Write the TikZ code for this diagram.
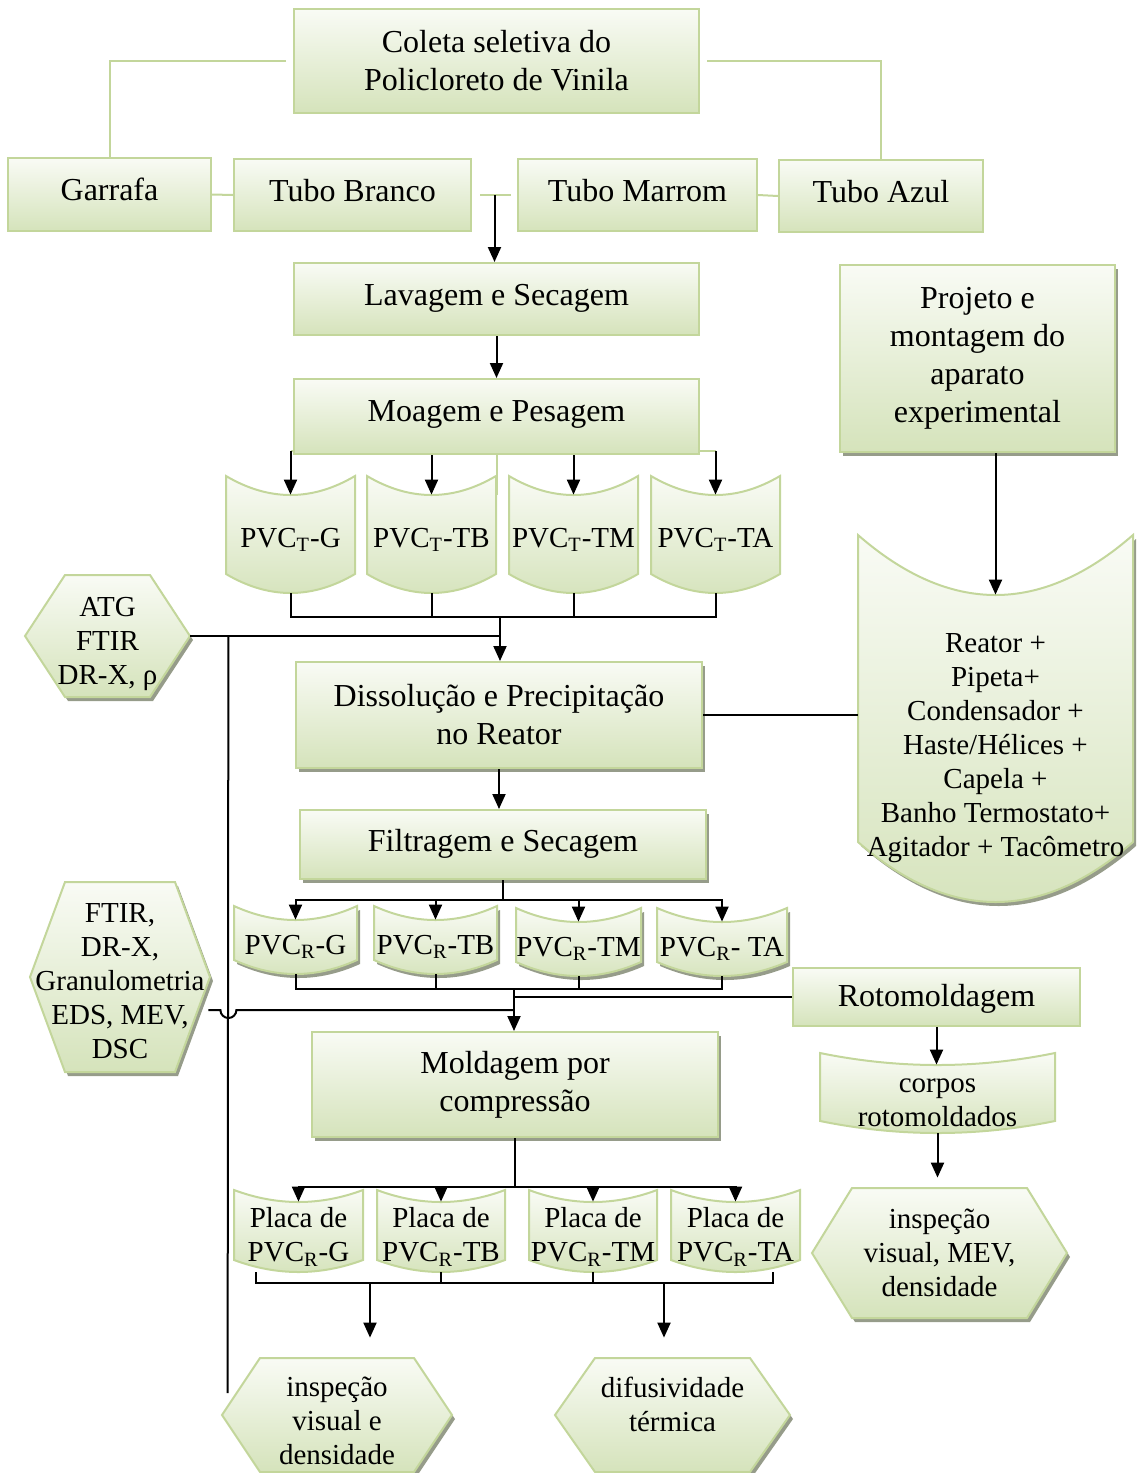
\documentclass[tikz,border=0pt]{standalone}
\usepackage{fontspec}
\setmainfont{Liberation Serif}
\usetikzlibrary{positioning}
\usetikzlibrary{calc}
\usetikzlibrary{shadows}
\usetikzlibrary{arrows.meta}
\definecolor{gline}{RGB}{195,214,155}
\definecolor{gtop}{RGB}{249,251,245}
\definecolor{gbot}{RGB}{213,227,187}
\definecolor{shadowcol}{RGB}{150,156,138}
\newcommand{\nodefont}{\fontsize{16}{17}\selectfont}
\newcommand{\bigfont}{\fontsize{16}{19}\selectfont}
\newcommand{\shapefont}{\fontsize{14.5}{17}\selectfont}
\tikzset{box/.style={shape=rectangle,
    draw=gline, line width=1pt, align=center, font=\nodefont,
    inner sep=0pt, top color=gtop, bottom color=gbot},
  wh/.style 2 args={minimum width=(#1)*0.5pt, minimum height=(#2)*0.5pt},
  lift/.style={text height=11pt, text depth=#1},
  txt/.style={align=center, font=\shapefont, inner sep=0pt},
  bentfill/.style={draw=gline, line width=1pt, top color=gtop, bottom color=gbot},
  withshadow/.style={drop shadow={shadow xshift=1.5pt, shadow yshift=-2pt,
    fill=shadowcol, opacity=1}},
  gl/.style={draw=gline, line width=1pt},
  bl/.style={draw=black, line width=1pt},
  flow/.style={bl, -{Triangle[width=6.5pt,length=7.5pt]}}}
% curved sheet: style, name, x left, x right, y top, y bottom, dip, text options, text
\newcommand{\bentnode}[9]{%
  \path[bentfill,#1] (#3,#5) .. controls ({#3+(#4-#3)/3},{#5+4*#7/3}) and ({#4-(#4-#3)/3},{#5+4*#7/3}) .. (#4,#5)
    -- (#4,#6) .. controls ({#4-(#4-#3)/3},{#6+4*#7/3}) and ({#3+(#4-#3)/3},{#6+4*#7/3}) .. (#3,#6) -- cycle;
  \node[txt, wh={#4-#3}{#6-#5}] (#2) at ({(#3+#4)/2},{(#5+#6)/2+#7}) {};
  \node[txt,#8] (#2-t) at (#2.center) {#9};}
% hexagon: style, name, x left, x right, y top, y bottom, inset, text options, text
\newcommand{\hexnode}[9]{%
  \path[bentfill,#1] (#3,{(#5+#6)/2}) -- ({#3+#7},#5) -- ({#4-#7},#5)
    -- (#4,{(#5+#6)/2}) -- ({#4-#7},#6) -- ({#3+#7},#6) -- cycle;
  \node[txt, wh={#4-#3}{#6-#5}] (#2) at ({(#3+#4)/2},{(#5+#6)/2}) {};
  \node[txt,#8] (#2-t) at (#2.center) {#9};}

\begin{document}
\begin{tikzpicture}[x=0.5pt,y=-0.5pt]
    \useasboundingbox (0,0) rectangle (1136,1473);

    \node[box, wh={405}{104}, font=\bigfont] (col) at (496.5,61) {Coleta seletiva do\\Policloreto de Vinila};
    \node[box, lift=5.5pt, wh={203}{73}] (gar) at (109.5,194.5) {Garrafa};
    \node[box, lift=5pt, wh={237}{72}] (tbr) at (352.5,195) {Tubo Branco};
    \node[box, lift=5pt, wh={239}{72}] (tma) at (637.5,195) {Tubo Marrom};
    \node[box, lift=5pt, wh={204}{72}] (taz) at (881,196) {Tubo Azul};

    \node[box, lift=5pt, wh={405}{72}] (lav) at (496.5,299) {Lavagem e Secagem};
    \node[box, lift=6pt, wh={405}{75}] (moa) [below=21pt of lav] {Moagem e Pesagem};
    \node[box, withshadow, wh={275}{187}, font=\bigfont] (proj) at (977.5,358.5) {Projeto e\\montagem do\\aparato\\experimental};

    \bentnode{}{pvct1}{226}{355}{476}{574}{19}{yshift=2pt}{PVC\textsubscript{T}-G}
    \bentnode{}{pvct2}{367}{496}{476}{574}{19}{yshift=2pt}{PVC\textsubscript{T}-TB}
    \bentnode{}{pvct3}{509}{638}{476}{574}{19}{yshift=2pt}{PVC\textsubscript{T}-TM}
    \bentnode{}{pvct4}{651}{780}{476}{574}{19}{yshift=2pt}{PVC\textsubscript{T}-TA}

    \hexnode{withshadow}{atg}{25}{190}{575}{697}{40}{yshift=-4pt}{ATG\\FTIR\\DR-X, ρ}
    \node[box, withshadow, wh={406}{106}, font=\bigfont] (dis) at (499,715) {Dissolução e Precipitação\\no Reator};
    \bentnode{withshadow}{reat}{858}{1133}{535}{842}{60}{}{Reator +\\Pipeta+\\Condensador +\\Haste/Hélices +\\Capela +\\Banho Termostato+\\Agitador + Tacômetro}
    \node[box, lift=4.5pt, withshadow, wh={406}{69}] (filt) [below=20pt of dis, xshift=2pt] {Filtragem e Secagem};

    \bentnode{withshadow}{pvcr1}{234}{357}{906}{960}{14}{}{PVC\textsubscript{R}-G}
    \bentnode{withshadow}{pvcr2}{374}{497}{906}{960}{14}{}{PVC\textsubscript{R}-TB}
    \bentnode{withshadow}{pvcr3}{516}{641}{908}{962}{14}{}{PVC\textsubscript{R}-TM}
    \bentnode{withshadow}{pvcr4}{657}{787}{908}{962}{14}{}{PVC\textsubscript{R}- TA}

    \hexnode{withshadow}{ftir}{30}{210}{882}{1072}{35}{yshift=-2pt}{FTIR,\\DR-X,\\Granulometria\\EDS, MEV,\\DSC}
    \node[box, lift=2pt, wh={287}{58}] (roto) at (936.5,997) {Rotomoldagem};
    \node[box, withshadow, wh={406}{105}, font=\bigfont] (mold) at (515,1084.5) {Moldagem por\\compressão};
    \bentnode{}{cor}{820}{1055}{1053}{1121}{12}{yshift=-2pt}{corpos\\rotomoldados}
    \hexnode{withshadow}{insp3}{812}{1067}{1188}{1318}{40}{}{inspeção\\visual, MEV,\\densidade}

    \bentnode{}{pl1}{234}{363}{1190}{1260}{12}{}{Placa de\\PVC\textsubscript{R}-G}
    \bentnode{}{pl2}{377}{505}{1190}{1260}{12}{}{Placa de\\PVC\textsubscript{R}-TB}
    \bentnode{}{pl3}{529}{657}{1190}{1260}{12}{}{Placa de\\PVC\textsubscript{R}-TM}
    \bentnode{}{pl4}{671}{800}{1190}{1260}{12}{}{Placa de\\PVC\textsubscript{R}-TA}

    \hexnode{withshadow}{insp}{222}{452}{1358}{1472}{38}{yshift=-3pt}{inspeção\\visual e\\densidade}
    \hexnode{withshadow}{dif}{555}{790}{1358}{1472}{40}{yshift=5.5pt}{difusividade\\térmica}

    % coleta e tubos
    \draw[gl, shorten <=3.5pt] (col.west) -| (gar.north);
    \draw[gl, shorten <=3.5pt] (col.east) -| (taz.north);
    \draw[gl] (gar.east) -- (tbr.west);
    \draw[gl, shorten <=4pt, shorten >=3pt] (tbr.east) -- (tma.west);
    \draw[gl] (tma.east) -- (taz.west);
    \coordinate (tubmeio) at ($(tbr.east)!0.5!(tma.west)$);
    \draw[flow] (tubmeio) -- (tubmeio |- lav.north);
    \draw[flow] (lav) -- (moa);

    % moagem
    \coordinate (mstubL) at ($(moa.south west)+(0,-4)$);
    \coordinate (mstubR) at ($(moa.south east)+(0,-4)$);
    \draw[gl] (mstubL) -- (mstubL -| pvct1.north);
    \draw[gl] (mstubR) -- (mstubR -| pvct4.north);
    \draw[gl] (moa.south) -- ++(0,40);
    \draw[flow] (mstubL -| pvct1.north) -- (pvct1.north);
    \draw[flow] (moa.south -| pvct2.north) -- (pvct2.north);
    \draw[flow] (moa.south -| pvct3.north) -- (pvct3.north);
    \draw[flow] (mstubR -| pvct4.north) -- (pvct4.north);

    \coordinate (jt) at (500,617);
    \draw[bl] (pvct1.south) |- (jt) -| (pvct4.south);
    \draw[bl] (pvct2.south) -- (pvct2.south |- jt);
    \draw[bl] (pvct3.south) -- (pvct3.south |- jt);
    \draw[flow] (jt) -- (jt |- dis.north);
    \draw[bl] (atg.east) -- (jt |- atg.east);
    \coordinate (tapA) at ($(atg.east)+(38,0)$);
    \coordinate (inspin) at ($(insp.west)+(6,-22)$);
    \draw[bl] (tapA) -- (inspin);

    % reator
    \draw[bl] (dis.east) -- (dis.east -| reat.west);
    \draw[flow] (proj.south -| reat.north) -- (reat.north);
    \draw[flow] (dis.south) -- (dis.south |- filt.north);

    % filtragem
    \coordinate (jf) at ($(filt.south)+(0,20)$);
    \draw[bl] (filt.south) -- (jf);
    \foreach \n in {1,...,4}
        \draw[flow] (jf) -| (pvcr\n.north);

    \coordinate (jr) at (514,989);
    \draw[bl] (pvcr1.south) |- (jr) -| (pvcr4.south);
    \draw[bl] (pvcr2.south) -- (pvcr2.south |- jr);
    \draw[bl] (pvcr3.south) -- (pvcr3.south |- jr);
    \draw[flow] (jr) -- (jr |- mold.north);
    \draw[bl] (roto.west) -- (roto.west -| jr);
    \coordinate (ftirout) at ($(ftir.east)+(-2,33)$);
    \draw[bl] (ftirout) -- ($(tapA |- ftirout)+(-8,0)$)
        arc[start angle=180, end angle=360, radius=4pt] -- (ftirout -| jr);

    % rotomoldagem
    \draw[flow] (roto.south) -- (roto.south |- cor.north);
    \draw[flow, shorten >=5pt] (cor.south) -- (cor.south |- insp3.north);

    % moldagem
    \coordinate (jm) at ($(mold.south)+(0,49)$);
    \draw[bl] (mold.south) -- (jm);
    \foreach \n in {1,...,4}
        \draw[flow] (jm) -| (pl\n.north);

    \coordinate (jp1) at (370,1283);
    \coordinate (jp2) at (664,1283);
    \coordinate (plL) at ($(pl1.south)+(-43,0)$);
    \coordinate (plR) at ($(pl4.south)+(37,0)$);
    \draw[bl] (plL) |- (jp1) -- (jp2) -| (plR);
    \draw[bl] (pl2.south) -- (pl2.south |- jp1);
    \draw[bl] (pl3.south) -- (pl3.south |- jp1);
    \draw[flow, shorten >=10pt] (jp1) -- (jp1 |- insp.north);
    \draw[flow, shorten >=10pt] (jp2) -- (jp2 |- dif.north);
\end{tikzpicture}
\end{document}
